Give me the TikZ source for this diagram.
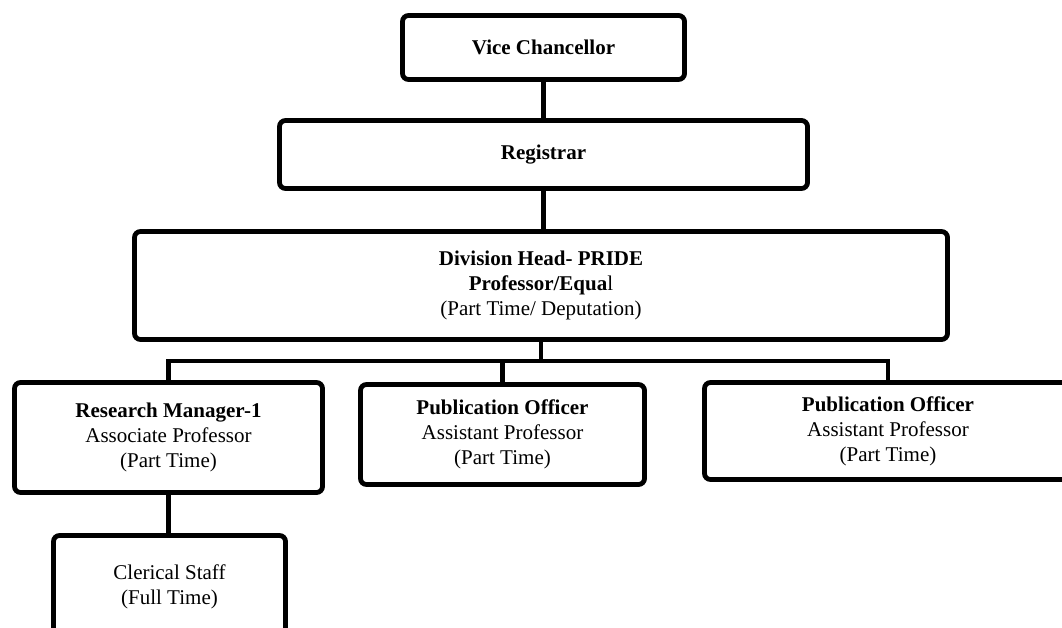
\documentclass[tikz,border=0pt]{standalone}
\usepackage{fontspec}
\setmainfont{Liberation Serif}
\begin{document}
\begin{tikzpicture}[x=1pt,y=-1pt,
  orgbox/.style={draw=black,line width=4.8pt,rounded corners=6pt,fill=white,
    inner sep=0pt,outer sep=0pt,align=center,
    font=\fontsize{21}{25}\selectfont},
  link/.style={draw=black,line width=4.6pt}]
\useasboundingbox (0,0) rectangle (1062,628);
\clip (0,0) rectangle (1062,628);
\fill[white] (0,0) rectangle (1062,628);
\node[orgbox,minimum width=282pt,minimum height=64pt] (vc) at (543.5,47.5) {\textbf{Vice Chancellor}};
\node[orgbox,minimum width=528pt,minimum height=68pt] (reg) at (543.5,154.5) {\textbf{Registrar}};
\node[orgbox,minimum width=813pt,minimum height=108pt] (div) at (541,285.5)
  {\textbf{Division Head- PRIDE}\\\textbf{Professor/Equa}l\\(Part Time/ Deputation)};
\node[orgbox,minimum width=308pt,minimum height=110pt] (rm) at (168.5,437.5)
  {\textbf{Research Manager-1}\\Associate Professor\\(Part Time)};
\node[orgbox,minimum width=284pt,minimum height=100pt] (po1) at (502.5,434.5)
  {\textbf{Publication Officer}\\Assistant Professor\\(Part Time)};
\node[orgbox,minimum width=367pt,minimum height=97pt] (po2) at (888,431)
  {\textbf{Publication Officer}\\Assistant Professor\\(Part Time)};
\node[orgbox,minimum width=232pt,minimum height=103pt] (cl) at (169.5,587)
  {Clerical Staff\\(Full Time)};
\coordinate (bus) at (541,361);
\draw[link] (vc.south) -- (vc.south |- reg.north);
\draw[link] (reg.south) -- (reg.south |- div.north);
\draw[link] (div.south) -- (bus);
\draw[link] (rm.north) |- (bus) -| (po2.north);
\draw[link] (po1.north) -- (po1.north |- bus);
\draw[link] (rm.south) -- (rm.south |- cl.north);
\end{tikzpicture}
\end{document}
